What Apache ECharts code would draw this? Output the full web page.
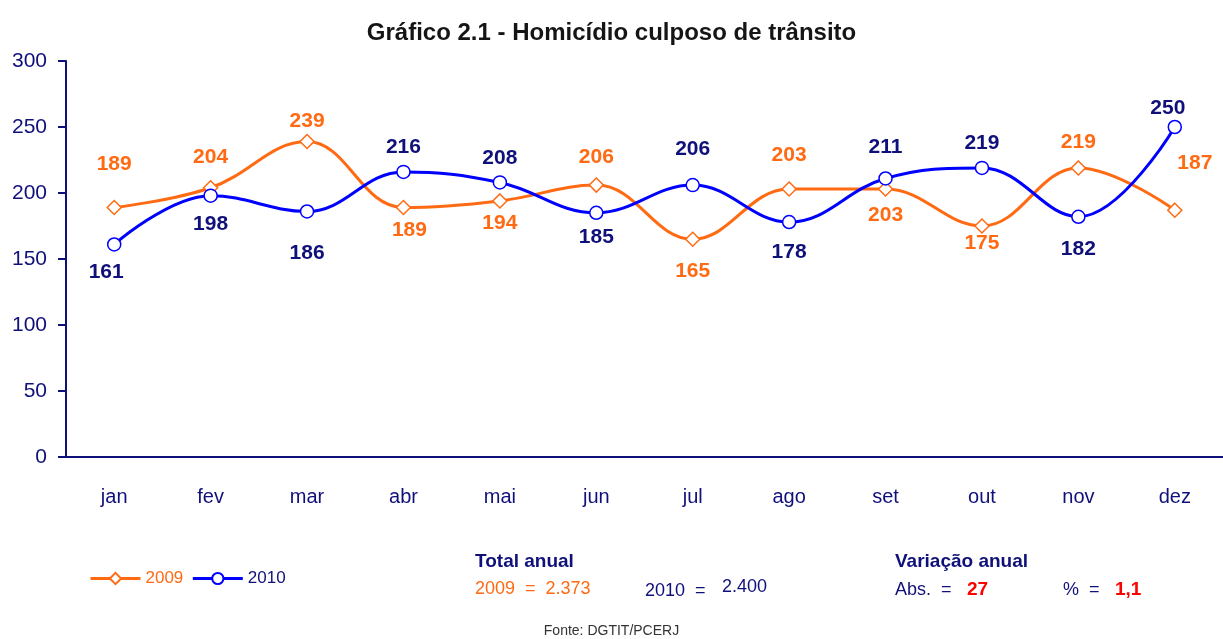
<!DOCTYPE html>
<html><head><meta charset="utf-8">
<script src="https://cdn.jsdelivr.net/npm/echarts@6/dist/echarts.min.js"></script>
<style>html,body{margin:0;padding:0;background:#fff}#c{width:1223px;height:639px}</style>
</head><body><div id="c"></div>
<script>
const months = ['jan','fev','mar','abr','mai','jun','jul','ago','set','out','nov','dez'];
const v2009 = [189,204,239,189,194,206,165,203,203,175,219,187];
const v2010 = [161,198,186,216,208,185,206,178,211,219,182,250];
const yTicks = [0,50,100,150,200,250,300];

// label offsets (style): [dx, dy] of label centre relative to the point
const off2009 = [[0,-43],[0,-31],[0,-20],[6,23],[0,22],[0,-28],[0,32],[0,-34],[0,26],[0,17],[0,-26],[20,-47]];
const off2010 = [[-8,28],[0,29],[0,42],[0,-25],[0,-24],[0,24],[0,-36],[0,30],[0,-31],[0,-25],[0,32],[-7,-19]];

const NAVY = '#10107a', ORANGE = '#ff6a13', BLUE = '#0000ff';
const FONT = '"Liberation Sans Narrow","Arial Narrow","Liberation Sans",Arial,sans-serif';

function mk(vals, offs) {
  return vals.map((v,i)=>({value:v, label:{offset:offs[i]}}));
}
const chart = echarts.init(document.getElementById('c'));
chart.setOption({
  animation:false,
  textStyle:{fontFamily:FONT},
  title:{text:'Gráfico 2.1 - Homicídio culposo de trânsito', left:'center', top:16,
    textStyle:{fontFamily:FONT, fontSize:24, fontWeight:'bold', color:'#151515'}},
  grid:{left:66, top:61, bottom:182, right:-7},
  xAxis:{type:'category', data:months, boundaryGap:true,
    axisLine:{lineStyle:{color:NAVY, width:2}},
    axisTick:{length:8, lineStyle:{color:NAVY, width:2}},
    axisLabel:{color:NAVY, fontSize:20, margin:30, fontFamily:FONT}},
  yAxis:{type:'value', min:yTicks[0], max:yTicks[yTicks.length-1], interval:50,
    axisLine:{show:true, lineStyle:{color:NAVY, width:2}},
    axisTick:{show:true, length:8, lineStyle:{color:NAVY, width:2}},
    splitLine:{show:false},
    axisLabel:{color:NAVY, fontSize:21, margin:19, fontFamily:FONT}},
  legend:{left:84, top:565, itemWidth:50, itemHeight:14, itemGap:8,
    textStyle:{fontSize:17, fontFamily:FONT},
    data:[{name:'2009', textStyle:{color:ORANGE}, lineStyle:{width:3}},
          {name:'2010', textStyle:{color:NAVY}, lineStyle:{width:3}}]},
  series:[
    {name:'2009', type:'line', smooth:0.4, data:mk(v2009, off2009),
     symbol:'diamond', symbolSize:14, lineStyle:{color:ORANGE, width:3},
     itemStyle:{color:'#fff', borderColor:ORANGE, borderWidth:1.5},
     label:{show:true, position:'inside', color:ORANGE, fontSize:21, fontWeight:'bold', fontFamily:FONT}},
    {name:'2010', type:'line', smooth:0.4, data:mk(v2010, off2010),
     symbol:'circle', symbolSize:13, lineStyle:{color:BLUE, width:3},
     itemStyle:{color:'#fff', borderColor:BLUE, borderWidth:1.5},
     label:{show:true, position:'inside', color:NAVY, fontSize:21, fontWeight:'bold', fontFamily:FONT}}
  ],
  graphic:[
    {type:'text', left:475, top:552, style:{text:'Total anual', fill:NAVY, font:'bold 19px '+FONT}},
    {type:'text', left:475, top:580, style:{text:'2009  =  2.373', fill:ORANGE, font:'18px '+FONT}},
    {type:'text', left:645, top:582, style:{text:'2010  =', fill:NAVY, font:'18px '+FONT}},
    {type:'text', left:722, top:578, style:{text:'2.400', fill:NAVY, font:'18px "Liberation Sans",Arial,sans-serif'}},
    {type:'text', left:895, top:552, style:{text:'Variação anual', fill:NAVY, font:'bold 19px '+FONT}},
    {type:'text', left:895, top:581, style:{text:'Abs.  =', fill:NAVY, font:'18px '+FONT}},
    {type:'text', left:967, top:580, style:{text:'27', fill:'#ff0000', font:'bold 19px '+FONT}},
    {type:'text', left:1063, top:581, style:{text:'%  =', fill:NAVY, font:'18px '+FONT}},
    {type:'text', left:1115, top:580, style:{text:'1,1', fill:'#ff0000', font:'bold 19px '+FONT}},
    {type:'text', left:'center', top:624, style:{text:'Fonte: DGTIT/PCERJ', fill:'#333', font:'14px '+FONT}}
  ]
});
</script></body></html>
